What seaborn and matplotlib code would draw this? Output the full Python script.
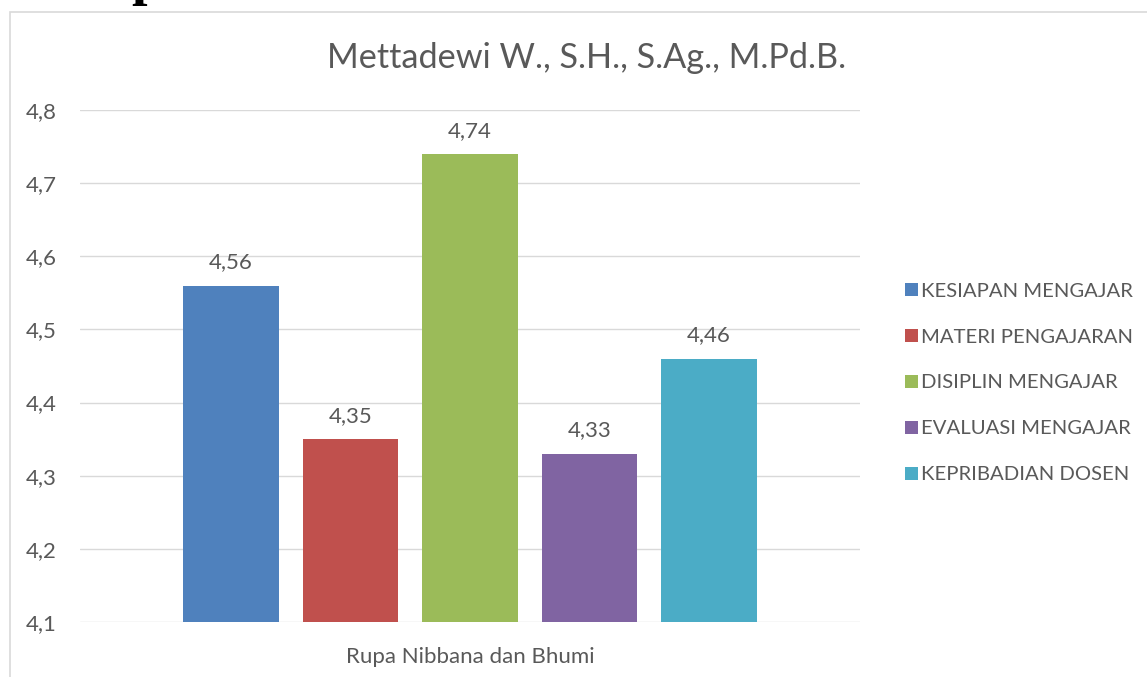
import matplotlib
matplotlib.use("Agg")
import matplotlib.pyplot as plt
import seaborn as sns
import pandas as pd
from matplotlib.patches import Rectangle, Patch

# ---- data ----
title = "Mettadewi W., S.H., S.Ag., M.Pd.B."
group = ["Rupa Nibbana dan Bhumi"]
series = ["KESIAPAN MENGAJAR", "MATERI PENGAJARAN", "DISIPLIN MENGAJAR",
          "EVALUASI MENGAJAR", "KEPRIBADIAN DOSEN"]
values = [4.56, 4.35, 4.74, 4.33, 4.46]
colors = ["#4F81BD", "#C0504D", "#9BBB59", "#8064A2", "#4BACC6"]
yticks = [4.1, 4.2, 4.3, 4.4, 4.5, 4.6, 4.7, 4.8]

df = pd.DataFrame({"group": group * len(series), "series": series, "value": values})

sns.set_theme(style="white")
plt.rcParams["font.family"] = ["Lato", "DejaVu Sans"]
txt = "#595959"

fig = plt.figure(figsize=(11.47, 6.77), dpi=100)
ax = fig.add_axes([80 / 1147, 1 - 622 / 677, 780 / 1147, 512 / 677])

sns.barplot(data=df, x="group", y="value", hue="series", hue_order=series,
            palette=colors, width=0.766, gap=0.2, ax=ax, legend=False,
            saturation=1, errorbar=None, linewidth=0)

ax.set_ylim(4.1, 4.8)
ax.set_xlim(-0.5, 0.5)
ax.set_yticks(yticks)
ax.set_yticklabels([f"{t:.1f}".replace(".", ",") for t in yticks], fontsize=16, color=txt)
ax.tick_params(axis="y", length=0, pad=16.5)
ax.tick_params(axis="x", length=0, pad=18, labelsize=16, labelcolor=txt)
ax.set_xlabel("")
ax.set_ylabel("")
ax.grid(axis="y", color="#D9D9D9", linewidth=1)
ax.set_axisbelow(True)
for s in ax.spines.values():
    s.set_visible(False)

for cont in ax.containers:
    ax.bar_label(cont, labels=[f"{v:.2f}".replace(".", ",") for v in cont.datavalues],
                 padding=9.5, fontsize=16, color=txt)

fig.text(587 / 1147, 1 - 58 / 677, title, ha="center", va="center",
         fontsize=24.7, color=txt)

handles = [Patch(facecolor=c, edgecolor="none") for c in colors]
fig.legend(handles, series, loc="center left", bbox_to_anchor=(895 / 1147, 1 - 383 / 677),
           frameon=False, fontsize=14.6, labelcolor=txt, handlelength=0.65,
           handleheight=0.65, handletextpad=0.15, labelspacing=1.43, borderpad=0)

# chart border
fig.patches.append(Rectangle((10 / 1147, -0.05), 1.2, 1 - 12 / 677 + 0.05,
                             transform=fig.transFigure, fill=False,
                             edgecolor="#D9D9D9", linewidth=1.2))

# cropped document text fragment at top
fig.text(131 / 1147, 1 + 6 / 677, "p", ha="left", va="baseline", fontsize=40,
         fontweight="bold", family="Liberation Serif", color="black")

fig.savefig("out.png", dpi=100)
